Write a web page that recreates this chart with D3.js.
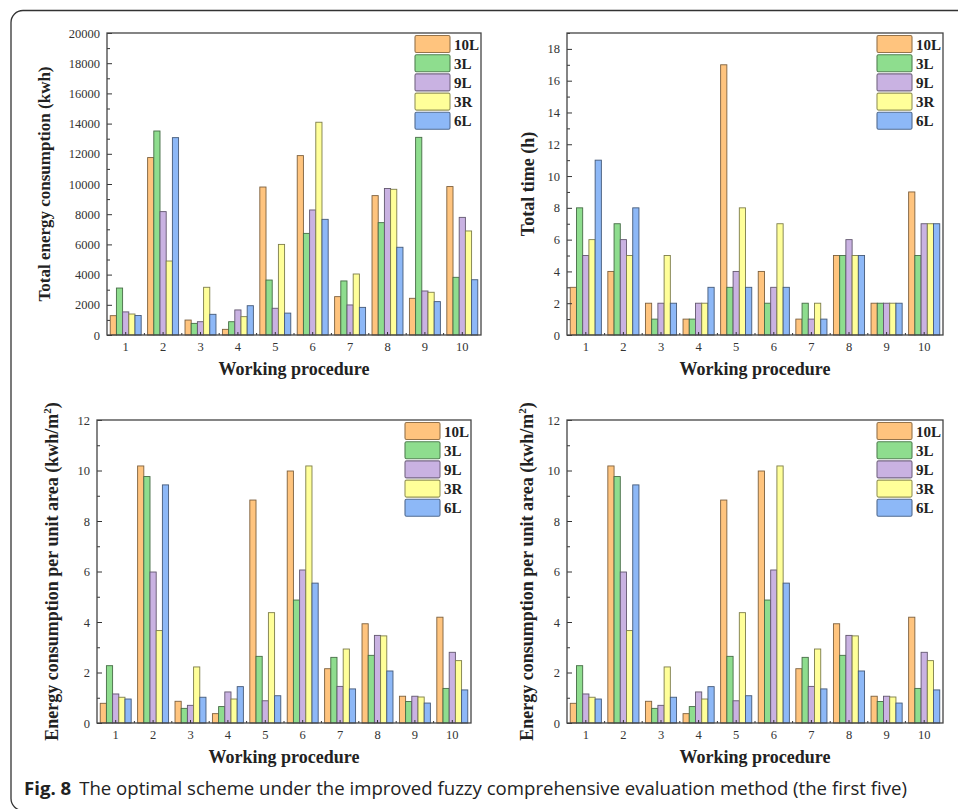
<!DOCTYPE html>
<html>
<head>
<meta charset="utf-8">
<script src="https://cdn.jsdelivr.net/npm/d3@7"></script>
<style>
  body { margin: 0; background: #fff; }
  svg { display: block; }
</style>
</head>
<body>
<script>
// categories
var procedures = [1, 2, 3, 4, 5, 6, 7, 8, 9, 10];
var seriesNames = ["10L", "3L", "9L", "3R", "6L"];
var seriesColors = ["#FFC47E", "#8EDD8E", "#C9B2E2", "#FFFF99", "#8DB8F7"];

// total energy consumption (kwh), one row per series
var energyKwh = [
    [1280, 11750, 990, 375, 9800, 11880, 2540, 9230, 2430, 9830],
    [3110, 13510, 770, 880, 3640, 6730, 3580, 7440, 13090, 3820],
    [1530, 8170, 880, 1660, 1770, 8280, 1990, 9700, 2915, 7790],
    [1390, 4900, 3160, 1215, 6000, 14090, 4040, 9650, 2830, 6890],
    [1290, 13070, 1370, 1940, 1450, 7660, 1830, 5810, 2210, 3660]
];

// total time (h)
var timeH = [
    [3, 4, 2, 1, 17, 4, 1, 5, 2, 9],
    [8, 7, 1, 1, 3, 2, 2, 5, 2, 5],
    [5, 6, 2, 2, 4, 3, 1, 6, 2, 7],
    [6, 5, 5, 2, 8, 7, 2, 5, 2, 7],
    [11, 8, 2, 3, 3, 3, 1, 5, 2, 7]
];

// energy consumption per unit area (kwh/m2)
var energyPerArea = [
    [0.78, 10.18, 0.86, 0.37, 8.83, 9.98, 2.15, 3.93, 1.06, 4.19],
    [2.27, 9.76, 0.58, 0.65, 2.64, 4.87, 2.60, 2.68, 0.85, 1.37],
    [1.15, 5.98, 0.70, 1.23, 0.88, 6.06, 1.45, 3.47, 1.06, 2.80],
    [1.02, 3.66, 2.22, 0.95, 4.37, 10.18, 2.93, 3.45, 1.03, 2.47],
    [0.95, 9.43, 1.02, 1.44, 1.08, 5.54, 1.35, 2.06, 0.79, 1.31]
];

// tick values
var energyTicks = d3.range(0, 20001, 2000);
var timeTicks = d3.range(0, 19, 2);
var areaTicks = d3.range(0, 13, 2);

var width = 958, height = 809;
var serif = "'Liberation Serif', 'Times New Roman', serif";

var svg = d3.select("body").append("svg")
    .attr("width", width)
    .attr("height", height);

// cadre arrondi
svg.append("rect")
    .attr("x", 11).attr("y", 10.5)
    .attr("width", 1000).attr("height", 800)
    .attr("rx", 12)
    .attr("fill", "none")
    .attr("stroke", "#333")
    .attr("stroke-width", 1.3);

var panels = [
    { values: energyKwh, max: 20000, ticks: energyTicks, minorStep: 1000,
      left: 107, right: 481, top: 33, bottom: 335, titleX: 50, titleSize: 17,
      title: "Total energy consumption (kwh)" },
    { values: timeH, max: 19, ticks: timeTicks, minorStep: 1,
      left: 567, right: 943, top: 33, bottom: 335, titleX: 534, titleSize: 18,
      title: "Total time (h)" },
    { values: energyPerArea, max: 12, ticks: areaTicks, minorStep: 1,
      left: 97, right: 471, top: 420, bottom: 723, titleX: 58, titleSize: 18,
      title: "area" },
    { values: energyPerArea, max: 12, ticks: areaTicks, minorStep: 1,
      left: 567, right: 943, top: 420, bottom: 723, titleX: 533, titleSize: 18,
      title: "area" }
];

panels.forEach(drawPanel);

function drawPanel(p) {
    var g = svg.append("g");

    var x = d3.scaleBand().domain(procedures).range([p.left, p.right]);
    var xs = d3.scaleBand().domain(seriesNames).range([0, x.bandwidth()]).paddingOuter(0.52);
    var y = d3.scaleLinear().domain([0, p.max]).range([p.bottom, p.top]);

    // barres
    seriesNames.forEach(function(s, si) {
        g.append("g").selectAll("rect")
            .data(p.values[si])
            .enter()
            .append("rect")
            .attr("x", function(d, i) { return x(procedures[i]) + xs(s); })
            .attr("y", function(d) { return y(d); })
            .attr("width", xs.bandwidth())
            .attr("height", function(d) { return p.bottom - y(d); })
            .attr("fill", seriesColors[si])
            .attr("stroke", d3.color(seriesColors[si]).darker(2))
            .attr("stroke-width", 0.9);
    });

    // axe y
    var minorVals = d3.range(0, p.max + 0.001, p.minorStep).filter(function(v) { return p.ticks.indexOf(v) < 0; });
    var yAxis = g.append("g")
        .attr("transform", "translate(" + p.left + ",0)")
        .call(d3.axisLeft(y).tickValues(p.ticks).tickFormat(d3.format("d"))
            .tickSizeInner(-5).tickSizeOuter(0).tickPadding(7));
    g.append("g")
        .attr("transform", "translate(" + p.left + ",0)")
        .call(d3.axisLeft(y).tickValues(minorVals).tickSizeInner(-3).tickSizeOuter(0).tickFormat(""))
        .select(".domain").remove();

    // axe x
    var xAxis = g.append("g")
        .attr("transform", "translate(0," + p.bottom + ")")
        .call(d3.axisBottom(x).tickSizeInner(-3).tickSizeOuter(0).tickPadding(7));
    g.append("g").selectAll("line")
        .data(procedures.slice(1))
        .enter()
        .append("line")
        .attr("x1", function(d) { return x(d); })
        .attr("x2", function(d) { return x(d); })
        .attr("y1", p.bottom)
        .attr("y2", p.bottom - 2)
        .attr("stroke", "#333");

    [yAxis, xAxis].forEach(function(a) {
        a.attr("font-family", serif).attr("font-size", 12.5);
        a.select(".domain").remove();
        a.selectAll("text")
            .style("font-family", serif)
            .style("font-size", "12.5px")
            .attr("fill", "#333");
    });
    g.selectAll("line").attr("stroke", "#333");

    // bordure
    g.append("rect")
        .attr("x", p.left).attr("y", p.top)
        .attr("width", p.right - p.left).attr("height", p.bottom - p.top)
        .attr("fill", "none")
        .attr("stroke", "#444")
        .attr("stroke-width", 1.3);

    // titres
    g.append("text")
        .attr("x", (p.left + p.right) / 2)
        .attr("y", p.bottom + 40)
        .attr("text-anchor", "middle")
        .attr("font-family", serif)
        .attr("font-weight", "bold")
        .attr("font-size", 18)
        .attr("fill", "#222")
        .text("Working procedure");

    var yt = g.append("text")
        .attr("transform", "translate(" + p.titleX + "," + ((p.top + p.bottom) / 2) + ") rotate(-90)")
        .attr("text-anchor", "middle")
        .attr("font-family", serif)
        .attr("font-weight", "bold")
        .attr("font-size", p.titleSize)
        .attr("fill", "#222");
    if (p.title === "area") {
        yt.append("tspan").text("Energy consumption per unit area (kwh/m");
        yt.append("tspan").attr("dy", -7).attr("font-size", 11).text("2");
        yt.append("tspan").attr("dy", 7).text(")");
    } else {
        yt.text(p.title);
    }

    // legende
    var leg = g.append("g").selectAll("g")
        .data(seriesNames)
        .enter()
        .append("g")
        .attr("transform", function(d, i) { return "translate(" + (p.right - 66) + "," + (p.top + 2.5 + i * 19.2) + ")"; });
    leg.append("rect")
        .attr("width", 35).attr("height", 17)
        .attr("rx", 1.5)
        .attr("fill", function(d, i) { return seriesColors[i]; })
        .attr("stroke", function(d, i) { return d3.color(seriesColors[i]).darker(1.5); })
        .attr("stroke-width", 1.1);
    leg.append("text")
        .attr("x", 39).attr("y", 14)
        .attr("font-family", serif)
        .attr("font-weight", "bold")
        .attr("font-size", 15)
        .attr("fill", "#222")
        .text(function(d) { return d; });
}

// legende de la figure
var cap = svg.append("text")
    .attr("x", 24).attr("y", 795)
    .attr("font-family", "'Open Sans', 'Noto Sans', sans-serif")
    .attr("font-size", 18.6)
    .attr("fill", "#222");
cap.append("tspan").attr("font-weight", "bold").text("Fig. 8");
cap.append("tspan").attr("dx", 8).text("The optimal scheme under the improved fuzzy comprehensive evaluation method (the first five)");
</script>
</body>
</html>
